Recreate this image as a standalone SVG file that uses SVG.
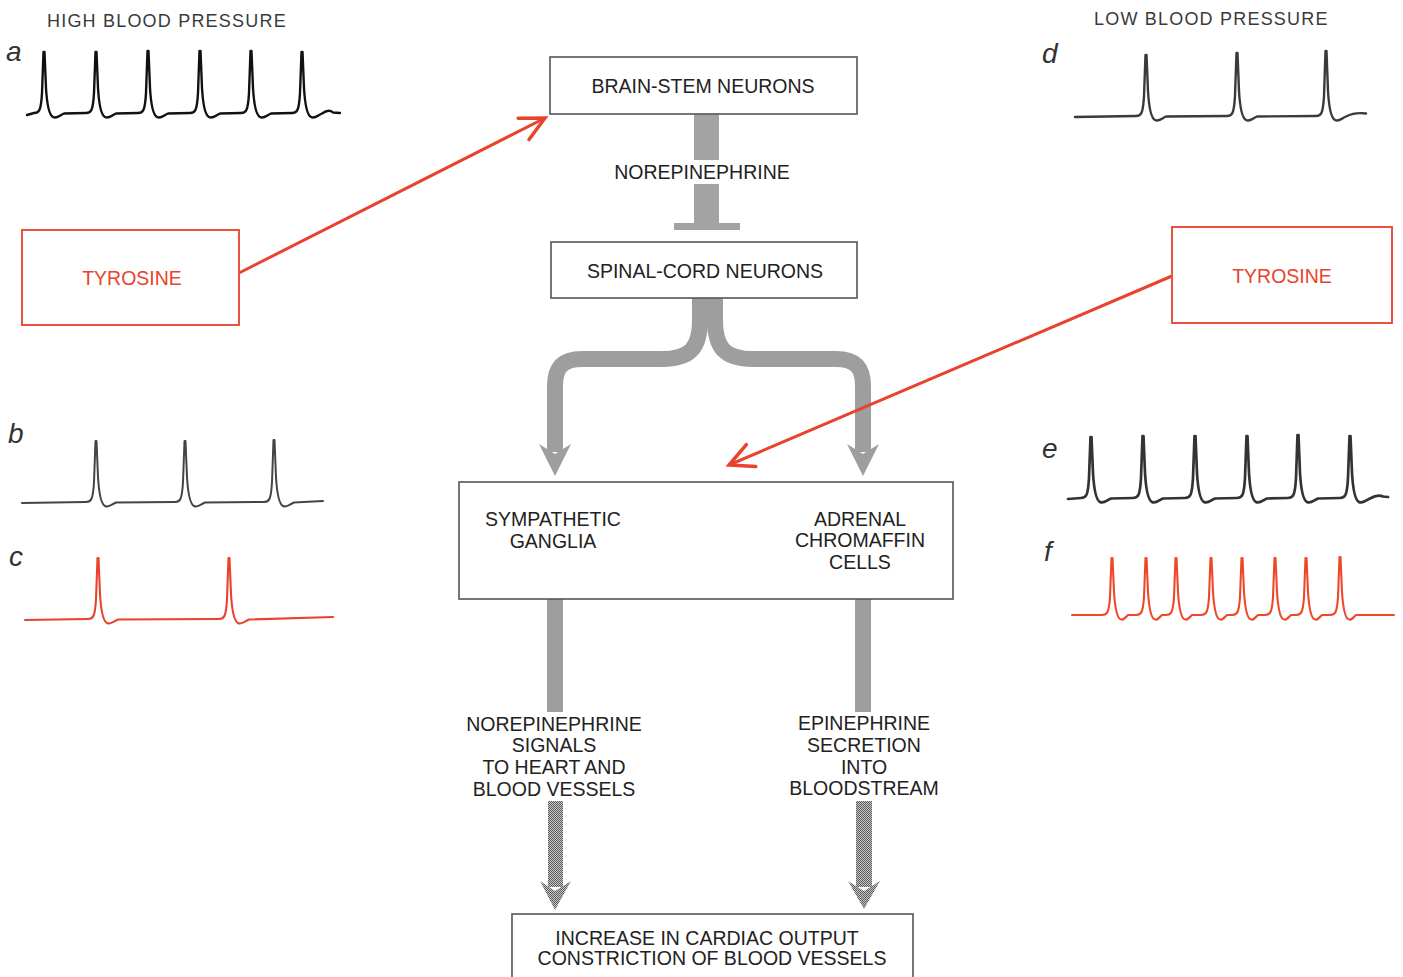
<svg xmlns="http://www.w3.org/2000/svg" width="1403" height="977" viewBox="0 0 1403 977">
  <defs>
    <style>
      .lbl { font-family: "Liberation Sans", Arial, sans-serif; font-size: 19.5px; fill: #222; text-anchor: middle; }
      .hdr { font-family: "Liberation Sans", Arial, sans-serif; font-size: 18px; fill: #3a3a3a; letter-spacing: 1.2px; }
      .red { fill: #e8432d; }
      .tag { font-family: "Liberation Sans", Arial, sans-serif; font-style: italic; font-size: 28px; fill: #333; }
      .box { fill: #fff; stroke: #555; stroke-width: 1.6; }
      .rbox { fill: #fff; stroke: #e8533f; stroke-width: 2; }
      .trace { fill: none; stroke-linejoin: round; stroke-linecap: round; }
      .flow { fill: none; stroke: #9e9e9e; stroke-width: 16; }
      .flowhead { fill: #9e9e9e; }
      .redline { stroke: #e8432d; stroke-width: 3; fill: none; }
    </style>
    <!-- fine halftone dither for the lower arrows -->
    <pattern id="stipple" width="2" height="2" patternUnits="userSpaceOnUse">
      <rect width="2" height="2" fill="#c8c8c8"/>
      <rect x="0" y="0" width="1" height="1" fill="#5a5a5a"/>
      <rect x="1" y="1" width="1" height="1" fill="#5a5a5a"/>
    </pattern>
    <marker id="openhead" markerUnits="userSpaceOnUse" markerWidth="40" markerHeight="40" viewBox="-30 -20 40 40" refX="0" refY="0" orient="auto">
      <path d="M-24,-12 L0,0 L-24,12" fill="none" stroke="#e8432d" stroke-width="3.5" stroke-linecap="round" stroke-linejoin="miter"/>
    </marker>
  </defs>

  <rect width="1403" height="977" fill="#fff"/>

  <!-- headers -->
  <text class="hdr" x="47" y="27">HIGH BLOOD PRESSURE</text>
  <text class="hdr" x="1094" y="25">LOW BLOOD PRESSURE</text>

  <!-- trace labels -->
  <text class="tag" x="6" y="61">a</text>
  <text class="tag" x="8" y="443">b</text>
  <text class="tag" x="9" y="566">c</text>
  <text class="tag" x="1042" y="63">d</text>
  <text class="tag" x="1042" y="458">e</text>
  <text class="tag" x="1044" y="561">f</text>

  <!-- recordings -->
  <g id="trace-a">
    <path class="trace" stroke="#111" stroke-width="2.4" d="M27,115 L34,113 c5,0 7,-2 8,-20 l1.5,-41 l1,0 l1.5,36 c1,17 3,27 7,29 c4,2 7,-2 11,-3.5 L86,113 c5,0 7,-2 8,-20 l1.5,-41 l1,0 l1.5,36 c1,17 3,27 7,29 c4,2 7,-2 11,-3.5 L138,113 c5,0 7,-2 8,-20 l1.5,-42 l1,0 l1.5,37 c1,17 3,27 7,29 c4,2 7,-2 11,-3.5 L190,113 c5,0 7,-2 8,-20 l1.5,-42 l1,0 l1.5,37 c1,17 3,27 7,29 c4,2 7,-2 11,-3.5 L241,113 c5,0 7,-2 8,-20 l1.5,-42 l1,0 l1.5,37 c1,17 3,27 7,29 c4,2 7,-2 11,-3.5 L292,113 c5,0 7,-2 8,-20 l1.5,-41 l1,0 l1.5,36 c1,17 3,27 7,29 c4,2 7,-2 11,-3.5 c4,-3 8,-4 11,-1 L340,113"/>
  </g>
  <g id="trace-b">
    <path class="trace" stroke="#444" stroke-width="2" d="M22,503 L86,502 c5,0 7,-2 8,-20 l1.5,-41 l1,0 l1.5,36 c1,17 3,27 7,29 c4,2 7,-2 11,-3.5 L175,502 c5,0 7,-2 8,-20 l1.5,-41 l1,0 l1.5,36 c1,17 3,27 7,29 c4,2 7,-2 11,-3.5 L264,502 c5,0 7,-2 8,-20 l1.5,-42 l1,0 l1.5,37 c1,17 3,27 7,29 c4,2 7,-2 11,-3.5 L323,501"/>
  </g>
  <g id="trace-c">
    <path class="trace" stroke="#e8432d" stroke-width="2.1" d="M25,620 L88,619 c5,0 7,-2 8,-20 l1.5,-41 l1,0 l1.5,36 c1,17 3,27 7,29 c4,2 7,-2 11,-3.5 L219,619 c5,0 7,-2 8,-20 l1.5,-41 l1,0 l1.5,36 c1,17 3,27 7,29 c4,2 7,-2 11,-3.5 L333,617"/>
  </g>
  <g id="trace-d">
    <path class="trace" stroke="#3a3a3a" stroke-width="2.4" d="M1075,117 L1136,116 c5,0 7,-2 8,-20 l1.5,-41 l1,0 l1.5,36 c1,17 3,27 7,29 c4,2 7,-2 11,-3.5 L1227,116 c5,0 7,-2 8,-20 l1.5,-43 l1,0 l1.5,38 c1,17 3,27 7,29 c4,2 7,-2 11,-3.5 L1316,116 c5,0 7,-2 8,-20 l1.5,-45 l1,0 l1.5,40 c1,17 3,27 7,29 c4,2 7,-2 11,-3.5 c6,-3 12,-4 20,-3"/>
  </g>
  <g id="trace-e">
    <path class="trace" stroke="#333" stroke-width="2.7" d="M1068,499 L1081,498 c5,0 7,-2 8,-20 l1.5,-41 l1,0 l1.5,36 c1,17 3,27 7,29 c4,2 7,-2 11,-3.5 L1133,498 c5,0 7,-2 8,-20 l1.5,-42 l1,0 l1.5,37 c1,17 3,27 7,29 c4,2 7,-2 11,-3.5 L1185,498 c5,0 7,-2 8,-20 l1.5,-42 l1,0 l1.5,37 c1,17 3,27 7,29 c4,2 7,-2 11,-3.5 L1237,498 c5,0 7,-2 8,-20 l1.5,-42 l1,0 l1.5,37 c1,17 3,27 7,29 c4,2 7,-2 11,-3.5 L1288,498 c5,0 7,-2 8,-20 l1.5,-43 l1,0 l1.5,38 c1,17 3,27 7,29 c4,2 7,-2 11,-3.5 L1340,498 c5,0 7,-2 8,-20 l1.5,-42 l1,0 l1.5,37 c1,17 3,27 7,29 c4,2 7,-2 11,-3.5 c5,-3 9,-4 13,-2 L1388,497"/>
  </g>
  <g id="trace-f">
    <path class="trace" stroke="#f0472b" stroke-width="2.1" d="M1072,615 L1102,615 c5,0 7,-2 8,-18 l1.5,-39 l1,0 l1.5,34 c1,15 3,25 6,27 c3,2 5,-1 8,-4 L1136,615 c5,0 7,-2 8,-18 l1.5,-39 l1,0 l1.5,34 c1,15 3,25 6,27 c3,2 5,-1 8,-4 L1166,615 c5,0 7,-2 8,-18 l1.5,-39 l1,0 l1.5,34 c1,15 3,25 6,27 c3,2 5,-1 8,-4 L1201,615 c5,0 7,-2 8,-18 l1.5,-39 l1,0 l1.5,34 c1,15 3,25 6,27 c3,2 5,-1 8,-4 L1232,615 c5,0 7,-2 8,-18 l1.5,-39 l1,0 l1.5,34 c1,15 3,25 6,27 c3,2 5,-1 8,-4 L1265,615 c5,0 7,-2 8,-18 l1.5,-39 l1,0 l1.5,34 c1,15 3,25 6,27 c3,2 5,-1 8,-4 L1296,615 c5,0 7,-2 8,-18 l1.5,-39 l1,0 l1.5,34 c1,15 3,25 6,27 c3,2 5,-1 8,-4 L1330,615 c5,0 7,-2 8,-18 l1.5,-40 l1,0 l1.5,35 c1,15 3,25 6,27 c3,2 5,-1 8,-4 L1394,615"/>
  </g>

  <!-- connectors -->
  <g id="connectors">
    <!-- brain-stem to spinal-cord: norepinephrine, blunt-ended -->
    <rect x="694" y="114" width="25" height="46" fill="#a3a3a3"/>
    <rect x="694" y="184" width="25" height="40" fill="#a3a3a3"/>
    <rect x="674" y="223" width="66" height="7" fill="#a3a3a3"/>

    <!-- spinal-cord fork -->
    <path class="flow" d="M700,297 L700,320 C700,348 690,359 662,359 L582,359 C562,359 555,368 555,386 L555,452"/>
    <path class="flow" d="M715,297 L715,320 C715,348 725,359 753,359 L836,359 C856,359 863,368 863,386 L863,452"/>
    <path class="flowhead" d="M539,444 L555,454 L571,444 L555,476 Z"/>
    <path class="flowhead" d="M847,444 L863,454 L879,444 L863,476 Z"/>

    <!-- outputs of the middle box -->
    <rect x="547" y="599" width="16" height="113" fill="#9e9e9e"/>
    <rect x="855" y="599" width="16" height="113" fill="#9e9e9e"/>

    <!-- stippled arrows to the final effect -->
    <rect x="548" y="801" width="15" height="86" fill="url(#stipple)"/>
    <path d="M540,881 L555,891 L571,881 L555,910 Z" fill="url(#stipple)"/>
    <rect x="856" y="801" width="16" height="86" fill="url(#stipple)"/>
    <path d="M848,881 L864,891 L880,881 L864,909 Z" fill="url(#stipple)"/>

    <!-- tyrosine effects -->
    <line class="redline" x1="239" y1="273" x2="545" y2="118" marker-end="url(#openhead)"/>
    <line class="redline" x1="1172" y1="276" x2="729" y2="465" marker-end="url(#openhead)"/>
  </g>

  <!-- nodes -->
  <g id="brain-stem">
    <rect class="box" x="550" y="57" width="307" height="57"/>
    <text class="lbl" x="703" y="93" fill="#333">BRAIN-STEM NEURONS</text>
  </g>
  <g id="norepinephrine-label">
    <text class="lbl" x="702" y="179">NOREPINEPHRINE</text>
  </g>
  <g id="spinal-cord">
    <rect class="box" x="551" y="242" width="306" height="56"/>
    <text class="lbl" x="705" y="278">SPINAL-CORD NEURONS</text>
  </g>
  <g id="tyrosine-left">
    <rect class="rbox" x="22" y="230" width="217" height="95"/>
    <text class="lbl red" x="132" y="285">TYROSINE</text>
  </g>
  <g id="tyrosine-right">
    <rect class="rbox" x="1172" y="227" width="220" height="96"/>
    <text class="lbl red" x="1282" y="283">TYROSINE</text>
  </g>
  <g id="ganglia-chromaffin">
    <rect class="box" x="459" y="482" width="494" height="117" stroke="#444"/>
    <text class="lbl" x="553" y="526" fill="#111">SYMPATHETIC</text>
    <text class="lbl" x="553" y="548" fill="#111">GANGLIA</text>
    <text class="lbl" x="860" y="526" fill="#111">ADRENAL</text>
    <text class="lbl" x="860" y="547" fill="#111">CHROMAFFIN</text>
    <text class="lbl" x="860" y="569" fill="#111">CELLS</text>
  </g>
  <g id="norepinephrine-signals">
    <text class="lbl" x="554" y="731" fill="#111">NOREPINEPHRINE</text>
    <text class="lbl" x="554" y="752" fill="#111">SIGNALS</text>
    <text class="lbl" x="554" y="774" fill="#111">TO HEART AND</text>
    <text class="lbl" x="554" y="796" fill="#111">BLOOD VESSELS</text>
  </g>
  <g id="epinephrine-secretion">
    <text class="lbl" x="864" y="730" fill="#111">EPINEPHRINE</text>
    <text class="lbl" x="864" y="752" fill="#111">SECRETION</text>
    <text class="lbl" x="864" y="774" fill="#111">INTO</text>
    <text class="lbl" x="864" y="795" fill="#111">BLOODSTREAM</text>
  </g>
  <g id="cardiac-output">
    <rect class="box" x="512" y="914" width="401" height="70"/>
    <text class="lbl" x="707" y="945" fill="#111">INCREASE IN CARDIAC OUTPUT</text>
    <text class="lbl" x="712" y="965" fill="#111">CONSTRICTION OF BLOOD VESSELS</text>
  </g>
</svg>
